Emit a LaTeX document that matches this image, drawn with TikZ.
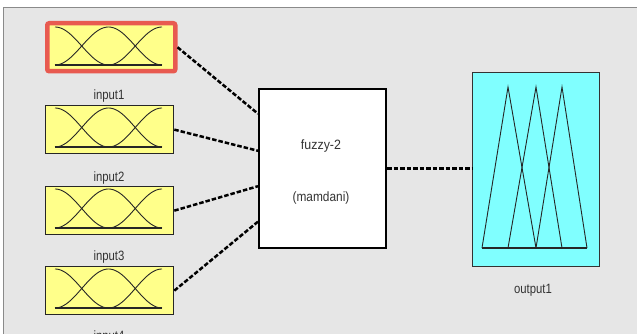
\documentclass[tikz,border=0pt]{standalone}
\usepackage{fontspec}
\setmainfont{Liberation Sans}
\usetikzlibrary{calc}
\definecolor{panel}{HTML}{E6E6E6}
\definecolor{frameline}{HTML}{8A8A8A}
\definecolor{mfyellow}{HTML}{FFFF8A}
\definecolor{mfcyan}{HTML}{80FFFF}
\definecolor{selred}{HTML}{E85A50}
\tikzset{
  inbox/.style={draw=black!85, line width=1.3pt, fill=mfyellow, minimum width=128pt, minimum height=48pt, inner sep=0pt, anchor=north west},
  fuzzbox/.style={draw=black, line width=2pt, fill=white, minimum width=127pt, minimum height=159pt, inner sep=0pt, anchor=north west},
  outbox/.style={draw=black!80, line width=1.2pt, fill=mfcyan, minimum width=127pt, minimum height=194pt, inner sep=0pt, anchor=north west},
  lbl/.style={font=\fontsize{13.5}{15}\selectfont, text=black!80, inner sep=0pt},
  conn/.style={line width=2.5pt, dash pattern=on 4.5pt off 2pt, black},
  mfline/.style={line width=0.9pt, black!85},
  baseln/.style={line width=2pt, black!85},
}
\newcommand{\nar}[1]{\scalebox{0.84}[1]{#1}}
% membership functions: #1 left x, #2 top y, #3 bottom y of curve area
\newcommand{\mfset}[3]{%
  \draw[mfline] plot[domain=0:53.5, samples=40] ({#1+\x}, {#3-((#3)-(#2))*0.5*(1+cos(180*\x/53.5))});
  \draw[mfline] plot[domain=-53.5:53.5, samples=60] ({#1+53.5+\x}, {#3-((#3)-(#2))*0.5*(1+cos(180*\x/53.5))});
  \draw[mfline] plot[domain=-53.5:0, samples=40] ({#1+107+\x}, {#3-((#3)-(#2))*0.5*(1+cos(180*\x/53.5))});
  \draw[baseln] (#1,#3) -- (#1+107,#3);
}
\begin{document}
\begin{tikzpicture}[x=1pt,y=-1pt]
\useasboundingbox (0,0) rectangle (637,334);
\fill[white] (0,0) rectangle (637,334);
\fill[panel] (3,8) rectangle (640,340);
\draw[frameline, line width=1pt] (3,340) -- (3,8) -- (640,8);

% input boxes
\node[inbox, draw=selred, line width=4.5pt, rounded corners=2pt] (in1) at (45,21) {};
\node[inbox] (in2) at (45,105) {};
\node[inbox] (in3) at (45,186) {};
\node[inbox] (in4) at (45,266) {};
\mfset{55}{27}{65}
\mfset{55}{108}{147}
\mfset{55}{189}{228}
\mfset{55}{269}{308}

\node[lbl] (l1) at (109,96) {\nar{input1}};
\node[lbl] (l2) at (109,178) {\nar{input2}};
\node[lbl] (l3) at (109,257) {\nar{input3}};
\node[lbl] (l4) at (109,337) {\nar{input4}};

% fuzzy system
\node[fuzzbox] (fz) at (258,88) {};
\node[lbl] (t1) at (321,146) {\scalebox{0.92}[1]{fuzzy-2}};
\node[lbl] (t2) at (321,198) {\scalebox{0.88}[1]{(mamdani)}};

% output
\node[outbox] (out) at (472,72) {};
\draw[mfline] (482,248) -- (508,87) -- (536,248);
\draw[mfline] (508,248) -- (536,87) -- (562,248);
\draw[mfline] (536,248) -- (562,87) -- (587,248);
\draw[line width=1.3pt, black!85] (482,248) -- (587,248);
\node[lbl] (lo) at (533,290) {\nar{output1}};

% connectors
\coordinate (f1) at ($(fz.north west)!0.16!(fz.south west)$);
\coordinate (f2) at ($(fz.north west)!0.39!(fz.south west)$);
\coordinate (f3) at ($(fz.north west)!0.61!(fz.south west)$);
\coordinate (f4) at ($(fz.north west)!0.83!(fz.south west)$);
\draw[conn] (in1.east) -- (f1);
\draw[conn] (in2.east) -- (f2);
\draw[conn] (in3.east) -- (f3);
\draw[conn] (in4.east) -- (f4);
\draw[conn] (fz.east) -- (fz.east -| out.west);
\end{tikzpicture}
\end{document}
